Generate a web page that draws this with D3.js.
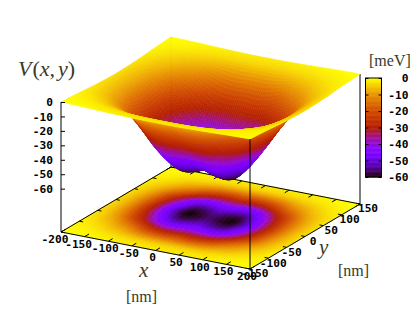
<!DOCTYPE html>
<html>
<head>
<meta charset="utf-8">
<script src="https://cdn.jsdelivr.net/npm/d3@7"></script>
<style>
html,body{margin:0;padding:0;background:#fff;}
svg{display:block;}
.tick-label,.tick text{font-family:"DejaVu Sans Mono",monospace;font-weight:bold;font-size:11.2px;fill:#000;}
.math{font-family:"Liberation Serif",serif;fill:#3a3a28;}
</style>
</head>
<body>
<div id="chart"></div>
<script>
var xGrid = [-200,-175,-150,-125,-100,-75,-50,-25,0,25,50,75,100,125,150,175,200];
var yGrid = [-150,-125,-100,-75,-50,-25,0,25,50,75,100,125,150];
// potential in meV, one row per yGrid entry
var vGrid = [
	[0,-.2,-.4,-.7,-1,-1.2,-1.4,-1.5,-1.5,-1.5,-1.4,-1.2,-1,-.7,-.4,-.2,0],
	[-.5,-1,-1.7,-2.5,-3.3,-4,-4.5,-4.7,-4.7,-4.7,-4.5,-4,-3.3,-2.5,-1.7,-1,-.5],
	[-1,-2.3,-4,-6.5,-9,-12.5,-15,-16,-15.5,-16,-15,-12.5,-9,-6.5,-4,-2.3,-1],
	[-1.7,-4.2,-7.5,-12.5,-18,-25,-30,-31,-30,-31,-30,-25,-18,-12.5,-7.5,-4.2,-1.7],
	[-2.3,-5.7,-11.5,-20.5,-30.5,-40,-45.5,-45,-43.5,-45,-45.5,-40,-30.5,-20.5,-11.5,-5.7,-2.3],
	[-2.6,-6.8,-14,-25,-37.5,-48,-55.5,-55,-52.5,-55,-55.5,-48,-37.5,-25,-14,-6.8,-2.6],
	[-2.8,-7,-15,-27,-40.5,-52,-59.5,-58.5,-56,-58.5,-59.5,-52,-40.5,-27,-15,-7,-2.8],
	[-2.6,-6.8,-14,-25,-37.5,-48,-55.5,-55,-52.5,-55,-55.5,-48,-37.5,-25,-14,-6.8,-2.6],
	[-2.3,-5.7,-11.5,-20.5,-30.5,-40,-45.5,-45,-43.5,-45,-45.5,-40,-30.5,-20.5,-11.5,-5.7,-2.3],
	[-1.7,-4.2,-7.5,-12.5,-18,-25,-30,-31,-30,-31,-30,-25,-18,-12.5,-7.5,-4.2,-1.7],
	[-1,-2.3,-4,-6.5,-9,-12.5,-15,-16,-15.5,-16,-15,-12.5,-9,-6.5,-4,-2.3,-1],
	[-.5,-1,-1.7,-2.5,-3.3,-4,-4.5,-4.7,-4.7,-4.7,-4.5,-4,-3.3,-2.5,-1.7,-1,-.5],
	[0,-.2,-.4,-.7,-1,-1.2,-1.4,-1.5,-1.5,-1.5,-1.4,-1.2,-1,-.7,-.4,-.2,0]
];
var xTicks = [-200,-150,-100,-50,0,50,100,150,200];
var yTicks = [-150,-100,-50,0,50,100,150];
var zTicks = [0,-10,-20,-30,-40,-50,-60];
var cbTicks = [0,-10,-20,-30,-40,-50,-60];
var zFloor = -90;

var width = 420, height = 320;
var svg = d3.select("#chart").append("svg").attr("width",width).attr("height",height);

// the reference is a slightly soft resampled bitmap
svg.append("defs").append("filter").attr("id","soft")
	.attr("filterUnits","userSpaceOnUse").attr("x",0).attr("y",0).attr("width",width).attr("height",height)
	.append("feGaussianBlur").attr("stdDeviation",0.4);

// gnuplot default palette 7,5,15
function pm3d(t){
	var r = Math.sqrt(t), g = t*t*t, b = Math.max(0,Math.sin(2*Math.PI*t));
	return d3.rgb(255*r,255*g,255*b).formatHex();
}
var colorScale = d3.scaleSequential(pm3d).domain([-60,0]).clamp(true);

// the oblique view: x and y run along the floor edges, z straight up
var scaleU = d3.scaleLinear().domain([-200,200]).range([0,1]);
var scaleV = d3.scaleLinear().domain([-150,150]).range([0,1]);
var scaleZ = d3.scaleLinear().domain([zFloor,0]).range([130,0]);
function project(x,y,z){
	var u = scaleU(x), v = scaleV(y);
	return [61 + 189*u + 110*v, 102 + 37*u - 65*v + scaleZ(z)];
}

function catmull(p0,p1,p2,p3,t){
	return 0.5*((2*p1) + (p2-p0)*t + (2*p0-5*p1+4*p2-p3)*t*t + (3*p1-p0-3*p2+p3)*t*t*t);
}
function sample1(arr,f){
	var n = arr.length-1, i = Math.min(n-1,Math.floor(f)), t = f-i;
	var p1 = arr[i], p2 = arr[i+1];
	var p0 = i>0 ? arr[i-1] : 2*p1-p2;
	var p3 = i<n-1 ? arr[i+2] : 2*p2-p1;
	return catmull(p0,p1,p2,p3,t);
}
function sampleV(x,y){
	var fx = (x-xGrid[0])/(xGrid[1]-xGrid[0]);
	var fy = (y-yGrid[0])/(yGrid[1]-yGrid[0]);
	var col = vGrid.map(function(row){return sample1(row,fx);});
	return Math.min(0,sample1(col,fy));
}

// fine mesh for display only
var nx = 96, ny = 72;
var mesh = [];
d3.range(ny+1).forEach(function(j){
	var row = [];
	var y = -150 + 300*j/ny;
	d3.range(nx+1).forEach(function(i){
		var x = -200 + 400*i/nx;
		row.push({x:x,y:y,z:sampleV(x,y)});
	});
	mesh.push(row);
});
var quads = [];
d3.range(ny).forEach(function(j){
	d3.range(nx).forEach(function(i){
		var c = [mesh[j][i],mesh[j][i+1],mesh[j+1][i+1],mesh[j+1][i]];
		quads.push({c:c,z:d3.mean(c,function(d){return d.z;}),
			x:d3.mean(c,function(d){return d.x;}),y:d3.mean(c,function(d){return d.y;})});
	});
});
// back to front along the view direction
quads.forEach(function(q){ q.depth = -0.776*q.x + q.y - 0.2*q.z; });
quads.sort(function(a,b){return b.depth-a.depth;});

function line(a,b){
	svg.append("line").attr("x1",a[0]).attr("y1",a[1]).attr("x2",b[0]).attr("y2",b[1])
		.attr("stroke","#000").attr("stroke-width",1);
}

// back vertical, hidden by the surface later
line(project(-200,150,zFloor),project(-200,150,0));

// floor map
svg.append("g").attr("filter","url(#soft)").selectAll("path").data(quads).enter().append("path")
	.attr("d",function(q){return "M"+q.c.map(function(d){return project(d.x,d.y,zFloor);}).join("L")+"Z";})
	.attr("fill",function(q){return colorScale(q.z);})
	.attr("stroke",function(q){return colorScale(q.z);})
	.attr("stroke-width",0.6);

// floor frame
var cA = project(-200,-150,zFloor), cB = project(200,-150,zFloor), cC = project(200,150,zFloor), cD = project(-200,150,zFloor);
line(cA,cB); line(cB,cC); line(cC,cD); line(cD,cA);
line(project(-200,-150,zFloor),project(-200,-150,0));
line(project(200,150,zFloor),project(200,150,0));

// ticks on the floor edges, and their mirrors
xTicks.forEach(function(x){
	line(project(x,-150,zFloor),project(x,-138,zFloor));
	line(project(x,150,zFloor),project(x,138,zFloor));
});
yTicks.forEach(function(y){
	line(project(200,y,zFloor),project(192,y,zFloor));
	line(project(-200,y,zFloor),project(-192,y,zFloor));
});

// surface
svg.append("g").attr("filter","url(#soft)").selectAll("path").data(quads).enter().append("path")
	.attr("d",function(q){return "M"+q.c.map(function(d){return project(d.x,d.y,d.z);}).join("L")+"Z";})
	.attr("fill",function(q){return colorScale(q.z);})
	.attr("stroke",function(q){return colorScale(q.z);})
	.attr("stroke-width",0.6);

// front vertical goes over the surface
line(project(200,-150,zFloor),project(200,-150,0));

// z axis
var zAxisScale = d3.scaleLinear().domain([-60,0]).range([scaleZ(-60)+102,102]);
svg.append("g").attr("transform","translate(61,0)")
	.call(d3.axisLeft(zAxisScale).tickValues(zTicks).tickFormat(String).tickSizeInner(-4).tickSizeOuter(0).tickPadding(8))
	.call(function(g){g.select(".domain").remove();});

// x and y tick labels
svg.append("g").selectAll("text").data(xTicks).enter().append("text")
	.attr("class","tick-label").attr("text-anchor","middle").attr("dy","0.35em")
	.attr("x",function(d){return project(d,-150,zFloor)[0]-(d<-100?6:3);})
	.attr("y",function(d){return project(d,-150,zFloor)[1]+7;})
	.text(String);
svg.append("g").selectAll("text").data(yTicks).enter().append("text")
	.attr("class","tick-label").attr("text-anchor","middle").attr("dy","0.35em")
	.attr("x",function(d){return project(200,d,zFloor)[0]+(d<0?5:8);})
	.attr("y",function(d){return project(200,d,zFloor)[1]+4.5;})
	.text(String);

// colour bar
var cbScale = d3.scaleLinear().domain([-60,0]).range([177,78]);
var cbSteps = d3.range(-60,0,0.5);
svg.append("g").selectAll("rect").data(cbSteps).enter().append("rect")
	.attr("x",365.5).attr("width",16)
	.attr("y",function(d){return cbScale(d+0.5);})
	.attr("height",function(d){return cbScale(d)-cbScale(d+0.5)+0.5;})
	.attr("fill",function(d){return colorScale(d+0.25);});
svg.append("g").attr("transform","translate(381.5,0)")
	.call(d3.axisRight(cbScale).tickValues(cbTicks).tickFormat(String).tickSizeInner(-3).tickSizeOuter(0).tickPadding(0))
	.call(function(g){
		g.select(".domain").remove();
		g.selectAll("text").attr("text-anchor","end").attr("x",27);
	});
svg.append("g").attr("transform","translate(365.5,0)")
	.call(d3.axisRight(cbScale).tickValues(cbTicks).tickFormat("").tickSizeInner(3).tickSizeOuter(0))
	.call(function(g){g.select(".domain").remove();});
svg.append("rect").attr("x",365.5).attr("y",78).attr("width",16).attr("height",99)
	.attr("fill","none").attr("stroke","#000");

// labels
function label(txt,x,y,size,italic){
	return svg.append("text").attr("class","math").attr("x",x).attr("y",y)
		.attr("font-size",size).attr("font-style",italic?"italic":"normal").text(txt);
}
var vLabel = label("",18,76,22,true);
vLabel.append("tspan").text("V");
vLabel.append("tspan").attr("font-style","normal").attr("dx",1).text("(");
vLabel.append("tspan").text("x,");
vLabel.append("tspan").attr("dx",3).text("y");
vLabel.append("tspan").attr("font-style","normal").text(")");
label("x",139,277,21,true);
label("y",319,254,21,true);
label("[nm]",126,302,16,false);
label("[nm]",338,276,16,false);
label("[meV]",369,66,16,false);
</script>
</body>
</html>
